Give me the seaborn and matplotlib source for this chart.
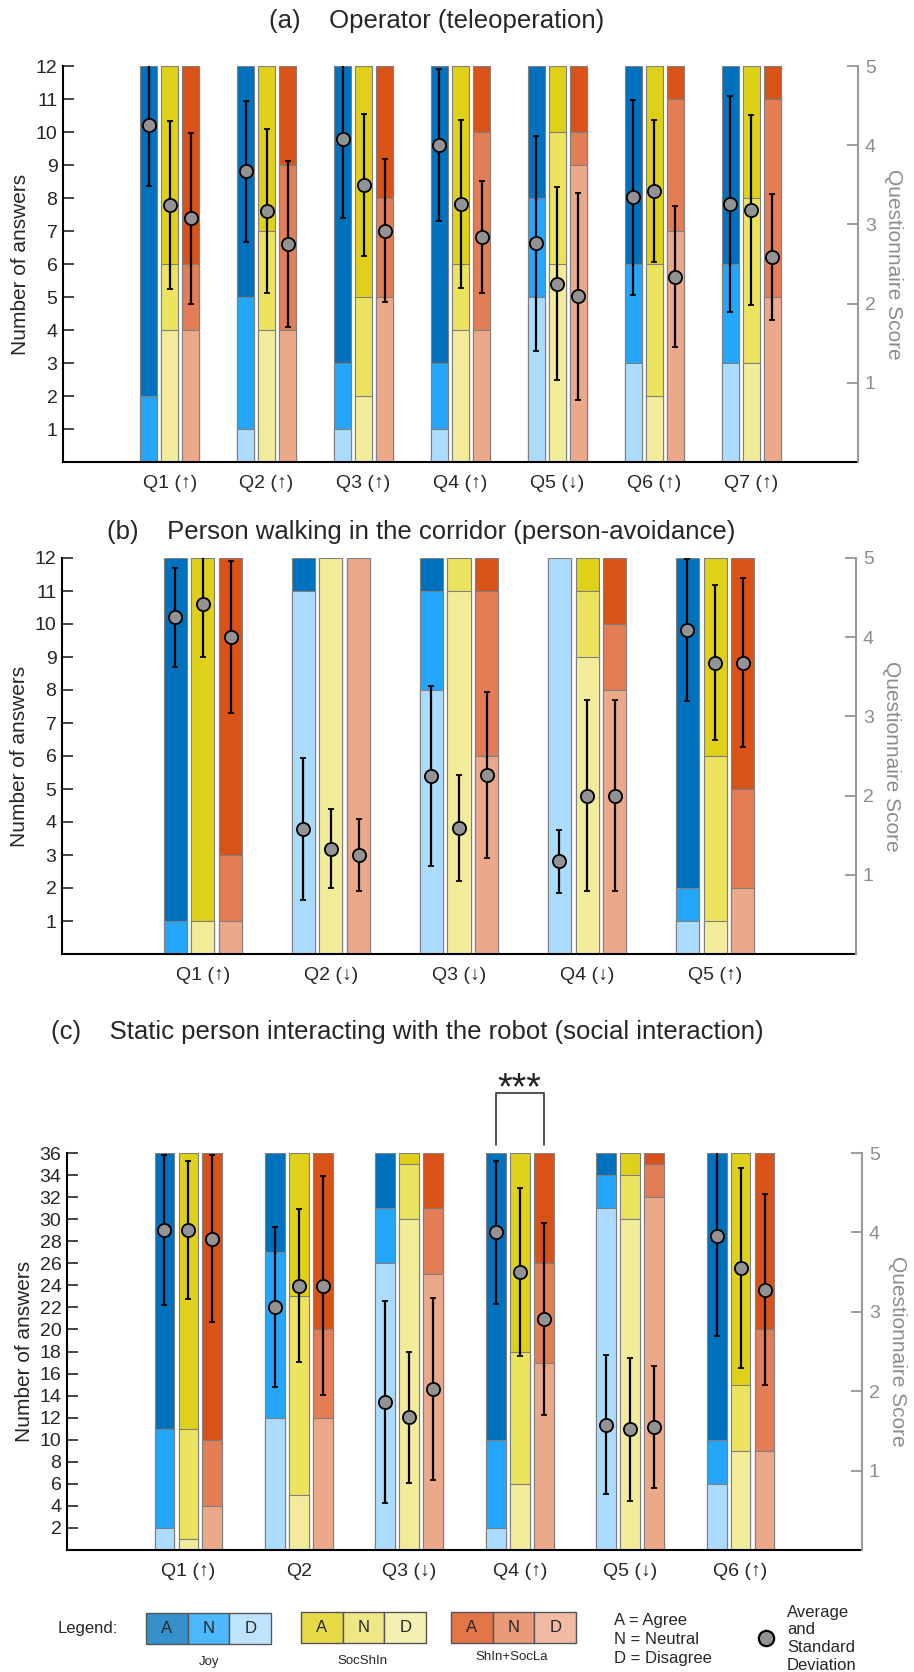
import matplotlib
matplotlib.use("Agg")
import matplotlib.pyplot as plt
from matplotlib.patches import Rectangle
import seaborn as sns
import pandas as pd

# ---- data -------------------------------------------------------------
groups = ["Joy", "SocShIn", "ShIn+SocLa"]

# (a) Operator (teleoperation): answer counts D / N / A per condition
a_labels = ["Q1 (↑)", "Q2 (↑)", "Q3 (↑)", "Q4 (↑)", "Q5 (↓)", "Q6 (↑)", "Q7 (↑)"]
a_joy_D = [0, 1, 1, 1, 5, 3, 3]
a_joy_N = [2, 4, 2, 2, 3, 3, 3]
a_joy_A = [10, 7, 9, 9, 4, 6, 6]
a_soc_D = [4, 4, 2, 4, 6, 2, 3]
a_soc_N = [2, 3, 3, 2, 4, 4, 5]
a_soc_A = [6, 5, 7, 6, 2, 6, 4]
a_shi_D = [4, 4, 5, 4, 9, 7, 5]
a_shi_N = [2, 5, 3, 6, 1, 4, 6]
a_shi_A = [6, 3, 4, 2, 2, 1, 1]
a_mean_joy = [4.25, 3.67, 4.08, 4.00, 2.76, 3.34, 3.26]
a_sd_joy = [0.76, 0.89, 1.00, 0.96, 1.36, 1.23, 1.36]
a_mean_soc = [3.25, 3.17, 3.50, 3.26, 2.25, 3.42, 3.18]
a_sd_soc = [1.06, 1.03, 0.90, 1.06, 1.22, 0.90, 1.20]
a_mean_shi = [3.08, 2.75, 2.92, 2.84, 2.09, 2.34, 2.59]
a_sd_shi = [1.08, 1.05, 0.90, 0.71, 1.31, 0.89, 0.80]

# (b) Person walking in the corridor
b_labels = ["Q1 (↑)", "Q2 (↓)", "Q3 (↓)", "Q4 (↓)", "Q5 (↑)"]
b_joy_D = [0, 11, 8, 12, 1]
b_joy_N = [1, 0, 3, 0, 1]
b_joy_A = [11, 1, 1, 0, 10]
b_soc_D = [1, 12, 11, 9, 1]
b_soc_N = [0, 0, 1, 2, 5]
b_soc_A = [11, 0, 0, 1, 6]
b_shi_D = [1, 12, 6, 8, 2]
b_shi_N = [2, 0, 5, 2, 3]
b_shi_A = [9, 0, 1, 2, 7]
b_mean_joy = [4.25, 1.58, 2.25, 1.17, 4.09]
b_sd_joy = [0.625, 0.90, 1.14, 0.40, 0.90]
b_mean_soc = [4.42, 1.33, 1.59, 2.00, 3.68]
b_sd_soc = [0.67, 0.50, 0.67, 1.21, 0.98]
b_mean_shi = [4.00, 1.25, 2.26, 2.00, 3.68]
b_sd_shi = [0.96, 0.45, 1.05, 1.21, 1.07]

# (c) Static person interacting with the robot
c_labels = ["Q1 (↑)", "Q2", "Q3 (↓)", "Q4 (↑)", "Q5 (↓)", "Q6 (↑)"]
c_joy_D = [2, 12, 26, 2, 31, 6]
c_joy_N = [9, 15, 5, 8, 3, 4]
c_joy_A = [25, 9, 5, 26, 2, 26]
c_soc_D = [1, 5, 30, 6, 30, 9]
c_soc_N = [10, 18, 5, 12, 4, 6]
c_soc_A = [25, 13, 1, 18, 2, 21]
c_shi_D = [4, 12, 25, 17, 32, 9]
c_shi_N = [6, 8, 6, 9, 3, 11]
c_shi_A = [26, 16, 5, 10, 1, 16]
c_mean_joy = [4.03, 3.06, 1.86, 4.00, 1.58, 3.95]
c_sd_joy = [0.945, 1.01, 1.27, 0.90, 0.87, 1.25]
c_mean_soc = [4.03, 3.33, 1.67, 3.50, 1.52, 3.55]
c_sd_soc = [0.875, 0.96, 0.83, 1.06, 0.90, 1.26]
c_mean_shi = [3.92, 3.33, 2.03, 2.91, 1.55, 3.28]
c_sd_shi = [1.05, 1.375, 1.15, 1.21, 0.77, 1.20]

# ---- style ------------------------------------------------------------
col_A = {"Joy": "#0072BD", "SocShIn": "#DFD11A", "ShIn+SocLa": "#D95319"}
col_N = {"Joy": "#24A7FA", "SocShIn": "#EBE35E", "ShIn+SocLa": "#E27D55"}
col_D = {"Joy": "#ABDCFD", "SocShIn": "#F2EC9A", "ShIn+SocLa": "#EBA98A"}
leg_A = {"Joy": "#3690CB", "SocShIn": "#E6DB46", "ShIn+SocLa": "#E37548"}
leg_N = {"Joy": "#4DB8FB", "SocShIn": "#EEE785", "ShIn+SocLa": "#E99A78"}
leg_D = {"Joy": "#BEE3FE", "SocShIn": "#F4F0B2", "ShIn+SocLa": "#F0BBA2"}
GRAY = "#8c8c8c"
EDGE = "#7f7f7f"

sns.set_style("white")
plt.rcParams["font.family"] = ["Liberation Sans", "DejaVu Sans"]

W, H = 914, 1672
fig = plt.figure(figsize=(W / 100, H / 100), dpi=100)
fig.patch.set_facecolor("white")

STEP = 0.217
BAR_W = 3 * STEP


def px_axes(l, t, r, b):
    return fig.add_axes([l / W, 1 - b / H, (r - l) / W, (b - t) / H])


def draw_panel(ax, labels, D, N, A, means, sds, ymax, yticks):
    rows = []
    for g, d, n, a in zip(groups, D, N, A):
        for q, dv, nv, av in zip(labels, d, n, a):
            rows.append({"q": q, "group": g, "D": dv, "DN": dv + nv, "DNA": dv + nv + av})
    df = pd.DataFrame(rows)
    for col, pal in [("DNA", col_A), ("DN", col_N), ("D", col_D)]:
        sns.barplot(data=df, x="q", y=col, hue="group", order=labels, hue_order=groups,
                    palette=pal, saturation=1, width=BAR_W, gap=0.17, errorbar=None,
                    edgecolor=EDGE, linewidth=0.8, legend=False, ax=ax)
    n = len(labels)
    ax.set_xlim(-1.1, n + 0.1)
    ax.set_ylim(0, ymax)
    ax.set_yticks(yticks)
    ax.set_xlabel("")
    ax.set_ylabel("Number of answers", fontsize=15, labelpad=4)
    ax.tick_params(axis="y", direction="in", length=8, width=1.2, labelsize=14, pad=4)
    ax.tick_params(axis="x", length=0, labelsize=14, pad=9)
    for s in ["top", "right"]:
        ax.spines[s].set_visible(False)
    for s in ["left", "bottom"]:
        ax.spines[s].set_color("black")
        ax.spines[s].set_linewidth(1.5)

    ax2 = ax.twinx()
    for k, (m, sd) in enumerate(zip(means, sds)):
        xs = [i + (k - 1) * STEP for i in range(n)]
        ax2.errorbar(xs, m, yerr=sd, fmt="o", color="black", ecolor="black",
                     elinewidth=1.6, capsize=2.5, capthick=1.6, markersize=9.5,
                     markerfacecolor="#939393", markeredgecolor="black",
                     markeredgewidth=1.3, zorder=3)
    ax2.set_ylim(0, 5)
    ax2.set_yticks([1, 2, 3, 4, 5])
    ax2.tick_params(axis="y", direction="in", length=8, width=1.2, labelsize=14,
                    colors=GRAY, pad=5)
    ax2.set_ylabel("Questionnaire Score", rotation=270, va="bottom", fontsize=15,
                   color=GRAY, labelpad=6)
    for s in ["top", "left", "bottom"]:
        ax2.spines[s].set_visible(False)
    ax2.spines["right"].set_color("#9a9a9a")
    ax2.spines["right"].set_linewidth(1.5)
    ax.set_xlim(-1.1, n + 0.1)
    return ax2


ax_a = px_axes(63, 66, 858, 462)
draw_panel(ax_a, a_labels, [a_joy_D, a_soc_D, a_shi_D], [a_joy_N, a_soc_N, a_shi_N],
           [a_joy_A, a_soc_A, a_shi_A], [a_mean_joy, a_mean_soc, a_mean_shi],
           [a_sd_joy, a_sd_soc, a_sd_shi], 12, range(1, 13))

ax_b = px_axes(62, 558, 856, 954)
draw_panel(ax_b, b_labels, [b_joy_D, b_soc_D, b_shi_D], [b_joy_N, b_soc_N, b_shi_N],
           [b_joy_A, b_soc_A, b_shi_A], [b_mean_joy, b_mean_soc, b_mean_shi],
           [b_sd_joy, b_sd_soc, b_sd_shi], 12, range(1, 13))

ax_c = px_axes(67, 1153, 862, 1550)
draw_panel(ax_c, c_labels, [c_joy_D, c_soc_D, c_shi_D], [c_joy_N, c_soc_N, c_shi_N],
           [c_joy_A, c_soc_A, c_shi_A], [c_mean_joy, c_mean_soc, c_mean_shi],
           [c_sd_joy, c_sd_soc, c_sd_shi], 36, range(2, 37, 2))

# significance bracket between Joy and ShIn+SocLa on Q4 of panel (c)
q4 = c_labels.index("Q4 (↑)")
ax_c.plot([q4 - STEP, q4 - STEP, q4 + STEP, q4 + STEP], [36.7, 41.4, 41.4, 36.7],
          color="#333333", lw=1.2, clip_on=False)
ax_c.text(q4, 40.9, "***", ha="center", va="baseline", fontsize=27, color="#222222")

# panel titles
fig.text(269 / W, 1 - 21 / H, "(a)    Operator (teleoperation)", ha="left", va="center", fontsize=18.5)
fig.text(107 / W, 1 - 532 / H, "(b)    Person walking in the corridor (person-avoidance)",
         ha="left", va="center", fontsize=18.5)
fig.text(51 / W, 1 - 1032 / H, "(c)    Static person interacting with the robot (social interaction)",
         ha="left", va="center", fontsize=18.5)

# ---- custom legend -----------------------------------------------------
lax = fig.add_axes([0, 0, 1, 82 / H])
lax.set_xlim(0, W)
lax.set_ylim(H, H - 82)
lax.axis("off")
lax.text(58, 1629, "Legend:", ha="left", va="center", fontsize=12)
boxes = [("Joy", 146, 1613, 209, 1662), ("SocShIn", 301, 1612, 362, 1661),
         ("ShIn+SocLa", 451, 1612, 512, 1657)]
cw, ch = 41.7, 31
for g, x0, y0, lx, ly in boxes:
    for j, (letter, pal) in enumerate([("A", leg_A), ("N", leg_N), ("D", leg_D)]):
        lax.add_patch(Rectangle((x0 + j * cw, y0), cw, ch, facecolor=pal[g],
                                edgecolor="#555555", lw=1.0))
        lax.text(x0 + (j + 0.5) * cw, y0 + ch / 2, letter, ha="center", va="center", fontsize=12)
    lax.text(lx, ly, g, ha="center", va="center", fontsize=9.5)

for txt, yy in [("A = Agree", 1621), ("N = Neutral", 1639), ("D = Disagree", 1658)]:
    lax.text(614, yy, txt, ha="left", va="center", fontsize=12)
lax.plot([766], [1638], "o", markersize=11, markerfacecolor="#939393",
         markeredgecolor="black", markeredgewidth=1.6)
for txt, yy in [("Average", 1612), ("and", 1630), ("Standard", 1648), ("Deviation", 1666)]:
    lax.text(787, yy, txt, ha="left", va="center", fontsize=12)

fig.savefig("out.png", dpi=100, facecolor="white")
